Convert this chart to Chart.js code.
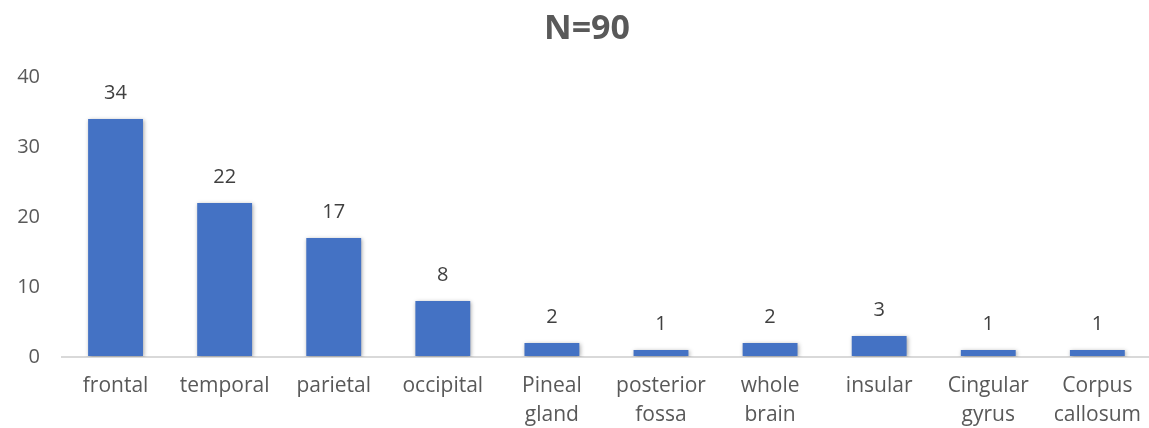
<!DOCTYPE html>
<html>
<head>
<meta charset="utf-8">
<script src="https://cdn.jsdelivr.net/npm/chart.js@4/dist/chart.umd.min.js"></script>
<style>
  html, body { margin: 0; padding: 0; background: #fff; overflow: hidden; }
  #wrap { width: 1149px; height: 428px; overflow: hidden; }
</style>
</head>
<body>
<div id="wrap"><canvas id="c" width="1155" height="428"></canvas></div>
<script>
const categories = [
  'frontal', 'temporal', 'parietal', 'occipital', ['Pineal', 'gland'],
  ['posterior', 'fossa'], ['whole', 'brain'], 'insular', ['Cingular', 'gyrus'], ['Corpus', 'callosum']
];
const counts = [34, 22, 17, 8, 2, 1, 2, 3, 1, 1];
const yTicks = [0, 10, 20, 30, 40];
const chartTitle = 'N=90';

const FONT = "'Open Sans', 'Liberation Sans', sans-serif";
const GREY = '#595959';

// Soft drop shadow behind the bars
const barShadow = {
  id: 'barShadow',
  beforeDatasetsDraw(chart) {
    const ctx = chart.ctx;
    ctx.save();
    ctx.shadowColor = 'rgba(0,0,0,0.35)';
    ctx.shadowBlur = 4;
    ctx.shadowOffsetX = 1;
    ctx.shadowOffsetY = 1;
  },
  afterDatasetsDraw(chart) {
    chart.ctx.restore();
  }
};

// Value labels above each bar
const valueLabels = {
  id: 'valueLabels',
  afterDatasetsDraw(chart) {
    const ctx = chart.ctx;
    const meta = chart.getDatasetMeta(0);
    ctx.save();
    ctx.shadowColor = 'transparent';
    ctx.fillStyle = '#404040';
    ctx.font = '20px ' + FONT;
    ctx.textAlign = 'center';
    ctx.textBaseline = 'middle';
    meta.data.forEach((bar, i) => {
      ctx.fillText(String(counts[i]), bar.x, bar.y - 26);
    });
    ctx.restore();
  }
};

// Chart heading, slightly right of the page centre
const heading = {
  id: 'heading',
  afterDraw(chart) {
    const ctx = chart.ctx;
    ctx.save();
    ctx.fillStyle = GREY;
    ctx.font = 'bold 34px ' + FONT;
    ctx.textAlign = 'center';
    ctx.textBaseline = 'middle';
    ctx.fillText(chartTitle, 587, 29);
    ctx.restore();
  }
};

new Chart(document.getElementById('c'), {
  type: 'bar',
  data: {
    labels: categories,
    datasets: [{
      data: counts,
      backgroundColor: '#4472C4',
      borderWidth: 0,
      categoryPercentage: 1.0,
      barPercentage: 0.503
    }]
  },
  options: {
    responsive: false,
    animation: false,
    devicePixelRatio: 1,
    layout: { padding: { left: 0, right: 0, top: 77, bottom: 0 } },
    plugins: {
      legend: { display: false },
      tooltip: { enabled: false },
      title: { display: false }
    },
    scales: {
      x: {
        afterFit(axis) { axis.height = 71; },
        grid: { display: false, drawTicks: false },
        border: { display: false },
        ticks: {
          color: GREY,
          font: { family: FONT, size: 21, lineHeight: 1.4 },
          padding: 14,
          maxRotation: 0,
          autoSkip: false
        }
      },
      y: {
        min: 0,
        max: 40,
        afterBuildTicks(axis) { axis.ticks = yTicks.map(v => ({ value: v })); },
        afterFit(axis) { axis.width = 61; },
        grid: {
          drawTicks: false,
          color: ctx => ctx.tick && ctx.tick.value === 0 ? '#d9d9d9' : 'rgba(0,0,0,0)',
          lineWidth: 2
        },
        border: { display: false },
        ticks: {
          color: GREY,
          font: { family: FONT, size: 20 },
          padding: 21
        }
      }
    }
  },
  plugins: [barShadow, valueLabels, heading]
});
</script>
</body>
</html>
